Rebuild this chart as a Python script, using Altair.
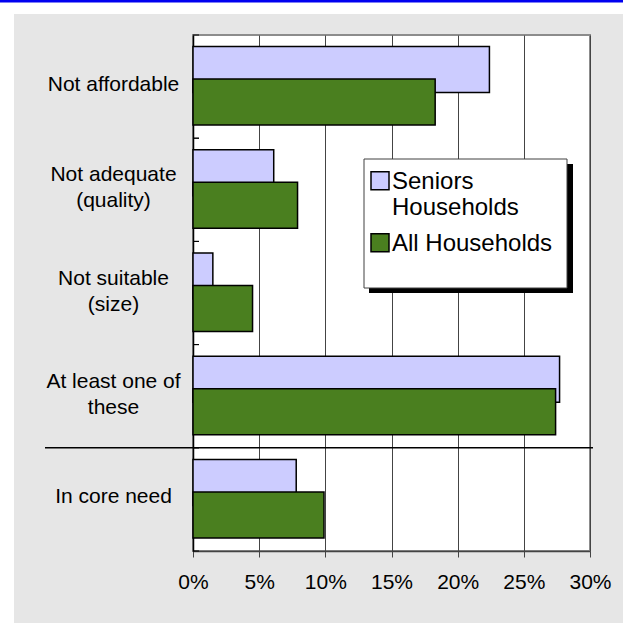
import altair as alt
import pandas as pd

# ---- data -------------------------------------------------------------
categories = [
    "Not affordable",
    "Not adequate\n(quality)",
    "Not suitable\n(size)",
    "At least one of\nthese",
    "In core need",
]
series = ["Seniors\nHouseholds", "All Households"]
seniors = [0.224, 0.061, 0.015, 0.277, 0.078]
all_households = [0.183, 0.079, 0.045, 0.274, 0.099]
x_ticks = [0, 0.05, 0.10, 0.15, 0.20, 0.25, 0.30]
colors = ["#CCCCFF", "#4A7F1F"]

rows = []
for cat, s, a in zip(categories, seniors, all_households):
    rows.append({"category": cat, "series": series[0], "value": s})
    rows.append({"category": cat, "series": series[1], "value": a})
df = pd.DataFrame(rows)
cat_df = pd.DataFrame({"category": categories})
one = pd.DataFrame({"k": [0]})

FONT = "Liberation Sans"
W, H = 397, 516

# ---- shared encodings ------------------------------------------------
y_scale = alt.Scale(domain=categories, paddingInner=0, paddingOuter=0)
y_enc = alt.Y(
    "category:N",
    sort=categories,
    scale=y_scale,
    axis=alt.Axis(
        title=None,
        ticks=False,
        tickSize=0,
        grid=False,
        domainColor="black",
        domainWidth=1.5,
        labelAlign="center",
        labelBaseline="middle",
        labelPadding=80,
        # two-line labels are lifted so the block sits centred on its band
        labelOffset={
            "condition": {"test": "indexof(datum.value, '\\n') >= 0", "value": -14.5},
            "value": -2,
        },
        labelFontSize=21,
        labelLineHeight=26,
        labelColor="black",
        labelLimit=0,
        labelExpr="split(datum.label, '\\n')",
    ),
)
x_enc = alt.X(
    "value:Q",
    scale=alt.Scale(domain=[0, 0.3], nice=False, zero=True),
    axis=alt.Axis(
        title=None,
        values=x_ticks,
        format=".0%",
        grid=True,
        gridColor="#444444",
        gridWidth=1,
        tickSize=6,
        tickColor="#444444",
        domainColor="#444444",
        domainWidth=1.5,
        labelFontSize=21,
        labelColor="black",
        labelPadding=14,
        labelFlush=False,
    ),
)
color_enc = alt.Color(
    "series:N",
    scale=alt.Scale(domain=series, range=colors),
    legend=alt.Legend(
        title=None,
        orient="none",
        legendX=175,
        legendY=123,
        padding=0,
        rowPadding=0,
        labelExpr="split(datum.label, '\\n')",
        labelFontSize=24,
        labelBaseline="top",
        labelOffset=0,
        labelColor="black",
        labelLimit=0,
        symbolType="M-1,0.2H1V2.2H-1Z",
        symbolSize=324,
        symbolStrokeColor="black",
        symbolStrokeWidth=1.5,
    ),
)

# ---- page frame: white margins and blue rule across the top ---------
def frame_rect(x, x2, y, y2, fill):
    return alt.Chart(one).mark_rect(fill=fill).encode(
        x=alt.value(x), x2=alt.value(x2), y=alt.value(y), y2=alt.value(y2)
    )

frame = [
    frame_rect(-193, -179, -35, 593, "white"),
    frame_rect(-193, 430, -35, -21, "white"),
    frame_rect(-193, 430, 588, 593, "white"),
    frame_rect(-193, 430, -35, -32.5, "#0000F0"),
]

# legend panel with drop shadow
legend_shadow = frame_rect(176, 380, 129, 258, "black")
legend_box = alt.Chart(one).mark_rect(
    fill="white", stroke="#404040", strokeWidth=1
).encode(x=alt.value(171), x2=alt.value(374), y=alt.value(124), y2=alt.value(253))

# ---- bars --------------------------------------------------------------
bar_style = dict(size=46, stroke="black", strokeWidth=1.5)
seniors_bars = (
    alt.Chart(df)
    .transform_filter(alt.FieldOneOfPredicate(field="series", oneOf=[series[0]]))
    .mark_bar(yOffset=-17, **bar_style)
    .encode(x=x_enc, y=y_enc, color=color_enc)
)
all_bars = (
    alt.Chart(df)
    .transform_filter(alt.FieldOneOfPredicate(field="series", oneOf=[series[1]]))
    .mark_bar(yOffset=15.5, **bar_style)
    .encode(x=x_enc, y=y_enc, color=color_enc)
)

# short inward ticks at category boundaries
band_ticks_top = alt.Chart(cat_df).mark_rule(color="black", strokeWidth=1).encode(
    y=alt.Y("category:N", sort=categories, scale=y_scale, bandPosition=0),
    x=alt.value(0),
    x2=alt.value(6),
)
band_ticks_bottom = alt.Chart(cat_df).mark_rule(color="black", strokeWidth=1).encode(
    y=alt.Y("category:N", sort=categories, scale=y_scale, bandPosition=1),
    x=alt.value(0),
    x2=alt.value(6),
)

# separator above the core-need group
separator = (
    alt.Chart(cat_df)
    .transform_filter(alt.FieldOneOfPredicate(field="category", oneOf=[categories[-1]]))
    .mark_rule(color="black", strokeWidth=1.5)
    .encode(
        y=alt.Y("category:N", sort=categories, scale=y_scale, bandPosition=0),
        x=alt.value(-148),
        x2=alt.value(400),
    )
)

chart = (
    alt.layer(
        seniors_bars,
        all_bars,
        *frame,
        legend_shadow,
        legend_box,
        band_ticks_top,
        band_ticks_bottom,
        separator,
    )
    .properties(
        width=W,
        height=H,
        padding={"left": 193, "top": 35, "right": 33, "bottom": 77},
        autosize=alt.AutoSizeParams(type="none"),
        background="#E6E6E6",
    )
    .configure_view(fill="white", stroke="#8C8C8C", strokeWidth=2)
    .configure_axis(labelFont=FONT)
    .configure_legend(labelFont=FONT)
)

chart.save("out.html", embed_options={"renderer": "svg", "actions": False})
